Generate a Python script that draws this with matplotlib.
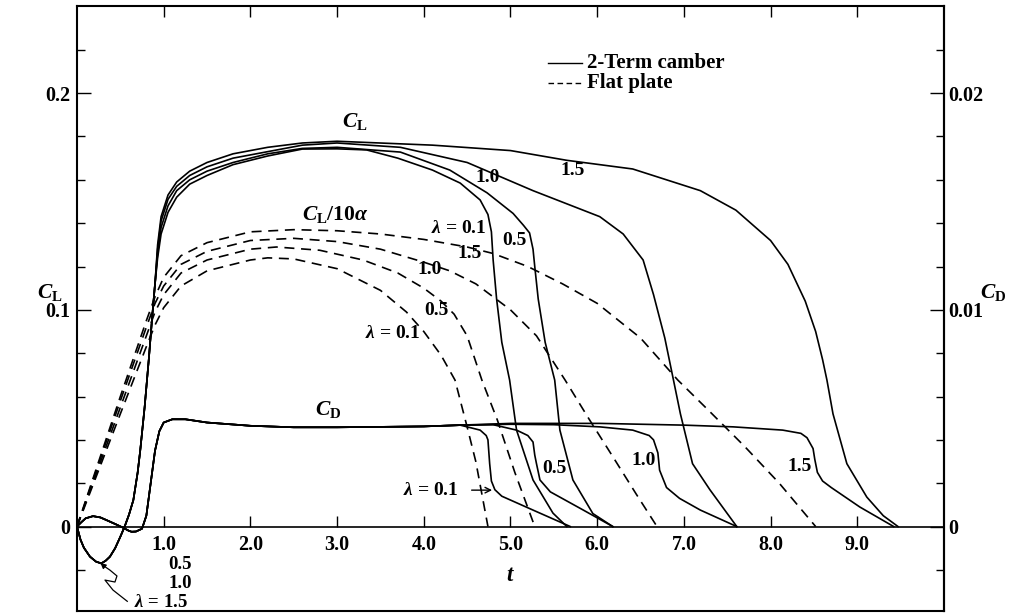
import matplotlib
matplotlib.use('Agg')
import matplotlib.pyplot as plt
from matplotlib.lines import Line2D

plt.rcParams['font.family'] = ['Liberation Serif', 'DejaVu Serif']
plt.rcParams['font.weight'] = 'bold'
plt.rcParams['mathtext.fontset'] = 'custom'
plt.rcParams['mathtext.rm'] = 'Liberation Serif:bold'
plt.rcParams['mathtext.it'] = 'Liberation Serif:italic:bold'
plt.rcParams['mathtext.bf'] = 'Liberation Serif:bold'

# ---- data ----
lambdas = ['0.1', '0.5', '1.0', '1.5']

# shared start of the cambered-plate lift curves (dip, then steep rise)
cl_start_t = [0, 0.04, 0.08, 0.15, 0.22, 0.28, 0.33, 0.38, 0.44, 0.5, 0.55, 0.6,
              0.65, 0.7, 0.73, 0.78, 0.83, 0.87, 0.9]
cl_start_v = [0, -0.006, -0.0098, -0.0139, -0.0162, -0.017, -0.0158, -0.0139, -0.010,
              -0.0047, 0.0, 0.0055, 0.0122, 0.025, 0.0353, 0.055, 0.078, 0.098, 0.112]

# 2-term camber C_L, rest of each curve
cl_t = {
    '0.1': [0.93, 0.97, 1.05, 1.15, 1.3, 1.5, 1.8, 2.2, 2.6, 3.0, 3.34, 3.7, 4.1, 4.42,
            4.65, 4.74, 4.78, 4.8, 4.84, 4.9, 4.99, 5.07, 5.26, 5.49, 5.65],
    '0.5': [0.93, 0.97, 1.05, 1.15, 1.3, 1.5, 1.8, 2.2, 2.6, 3.0, 3.73, 4.3, 4.73, 5.03,
            5.15, 5.22, 5.26, 5.28, 5.32, 5.4, 5.51, 5.57, 5.72, 5.95, 6.18],
    '1.0': [0.93, 0.97, 1.05, 1.15, 1.3, 1.5, 1.8, 2.2, 2.6, 3.0, 3.73, 4.5, 5.26, 6.03,
            6.3, 6.53, 6.65, 6.78, 6.88, 6.96, 7.1, 7.3, 7.61],
    '1.5': [0.93, 0.97, 1.05, 1.15, 1.3, 1.5, 1.8, 2.2, 2.6, 3.0, 4.1, 5.0, 5.65, 6.41,
            7.19, 7.6, 8.0, 8.2, 8.4, 8.52, 8.6, 8.65, 8.72, 8.88, 9.11, 9.3, 9.47],
}
cl_v = {
    '0.1': [0.124, 0.135, 0.145, 0.152, 0.158, 0.162, 0.167, 0.171, 0.1742, 0.1743, 0.1738,
            0.170, 0.1645, 0.1585, 0.1507, 0.144, 0.136, 0.123, 0.105, 0.085, 0.0676,
            0.0445, 0.0215, 0.0062, 0.0],
    '0.5': [0.126, 0.138, 0.148, 0.155, 0.160, 0.164, 0.168, 0.172, 0.1745, 0.175, 0.1728,
            0.1645, 0.154, 0.1445, 0.139, 0.1355, 0.128, 0.12, 0.105, 0.085, 0.0676,
            0.0445, 0.0215, 0.006, 0.0],
    '1.0': [0.128, 0.141, 0.151, 0.157, 0.162, 0.166, 0.170, 0.173, 0.176, 0.177, 0.175,
            0.168, 0.155, 0.143, 0.135, 0.123, 0.107, 0.087, 0.0676, 0.052, 0.029, 0.017,
            0.0],
    '1.5': [0.130, 0.143, 0.153, 0.159, 0.164, 0.168, 0.172, 0.175, 0.177, 0.1778, 0.176,
            0.1735, 0.169, 0.165, 0.155, 0.146, 0.132, 0.121, 0.104, 0.090, 0.077, 0.0676,
            0.052, 0.029, 0.0136, 0.005, 0.0],
}

# flat plate C_L/10alpha
fp_t = {
    '0.1': [0, 0.5, 0.8, 0.9, 1.0, 1.2, 1.5, 2.0, 2.2, 2.5, 3.0, 3.5, 3.8, 4.0, 4.2, 4.36,
            4.5, 4.6, 4.74],
    '0.5': [0, 0.5, 0.8, 0.9, 1.0, 1.2, 1.5, 2.0, 2.3, 2.8, 3.3, 3.7, 4.0, 4.2, 4.35, 4.5,
            4.67, 4.85, 5.05, 5.28],
    '1.0': [0, 0.5, 0.8, 0.9, 1.0, 1.2, 1.5, 2.0, 2.5, 3.0, 3.5, 4.0, 4.3, 4.6, 5.0, 5.3,
            5.63, 5.9, 6.2, 6.45, 6.69],
    '1.5': [0, 0.5, 0.8, 0.9, 1.0, 1.2, 1.5, 2.0, 2.5, 3.0, 3.5, 4.0, 4.5, 4.8, 5.2, 5.6,
            6.0, 6.5, 6.93, 7.3, 7.7, 8.1, 8.52],
}
fp_v = {
    '0.1': [0, 0.052, 0.083, 0.093, 0.101, 0.111, 0.118, 0.123, 0.124, 0.1235, 0.119, 0.109,
            0.099, 0.090, 0.079, 0.0676, 0.046, 0.030, 0.0],
    '0.5': [0, 0.055, 0.088, 0.099, 0.107, 0.117, 0.123, 0.128, 0.129, 0.1275, 0.123, 0.117,
            0.110, 0.104, 0.098, 0.088, 0.0676, 0.049, 0.025, 0.0],
    '1.0': [0, 0.058, 0.092, 0.103, 0.111, 0.121, 0.127, 0.132, 0.133, 0.1315, 0.128, 0.122,
            0.118, 0.112, 0.100, 0.088, 0.0676, 0.050, 0.031, 0.015, 0.0],
    '1.5': [0, 0.060, 0.095, 0.106, 0.115, 0.125, 0.131, 0.136, 0.137, 0.1365, 0.135, 0.1325,
            0.129, 0.126, 0.120, 0.112, 0.103, 0.087, 0.0676, 0.053, 0.037, 0.020, 0.0],
}

# drag coefficient, shared start then per-lambda tails
cd_start_t = [0, 0.05, 0.1, 0.185, 0.27, 0.35, 0.45, 0.53, 0.6, 0.63, 0.68, 0.75, 0.8,
              0.85, 0.9, 0.95, 1.0, 1.1, 1.25, 1.5, 2.0, 2.5, 3.0, 3.5, 4.0, 4.42]
cd_start_v = [0, 0.0002, 0.00038, 0.00048, 0.00042, 0.00028, 0.0001, -0.00005, -0.0002,
              -0.00024, -0.00023, -0.0001, 0.0005, 0.002, 0.0035, 0.0044, 0.0048, 0.00495,
              0.00495, 0.0048, 0.00465, 0.00458, 0.00458, 0.0046, 0.00462, 0.00468]
cd_t = {
    '0.1': [4.65, 4.72, 4.74, 4.76, 4.78, 4.82, 4.9, 5.26, 5.69],
    '0.5': [4.8, 5.07, 5.2, 5.26, 5.28, 5.3, 5.34, 5.46, 5.84, 6.18],
    '1.0': [5.0, 5.5, 6.03, 6.41, 6.6, 6.65, 6.7, 6.72, 6.8, 6.95, 7.19, 7.61],
    '1.5': [5.0, 6.03, 7.0, 7.57, 8.14, 8.35, 8.42, 8.49, 8.51, 8.54, 8.6, 8.7, 9.03, 9.42],
}
cd_v = {
    '0.1': [0.00445, 0.0042, 0.004, 0.0029, 0.0021, 0.0017, 0.0014, 0.00076, 0.0],
    '0.5': [0.0047, 0.00445, 0.0042, 0.0039, 0.0033, 0.0029, 0.00215, 0.0016, 0.00076, 0.0],
    '1.0': [0.00472, 0.0047, 0.0046, 0.00445, 0.0042, 0.004, 0.0034, 0.0026, 0.0018, 0.0013,
            0.00076, 0.0],
    '1.5': [0.00476, 0.00476, 0.00468, 0.0046, 0.00445, 0.0043, 0.0041, 0.0036, 0.0031,
            0.0025, 0.0021, 0.0018, 0.0009, 0.0],
}

cl_ticks = [0, 0.1, 0.2]
cl_ticklabels = ['0', '0.1', '0.2']
cd_ticks = [0, 0.01, 0.02]
cd_ticklabels = ['0', '0.01', '0.02']
t_ticks = [1, 2, 3, 4, 5, 6, 7, 8, 9]
t_ticklabels = ['1.0', '2.0', '3.0', '4.0', '5.0', '6.0', '7.0', '8.0', '9.0']

# ---- figure ----
fig = plt.figure(figsize=(10.32, 6.15), dpi=100)
ax = fig.add_axes([0.0746, 0.0057, 0.8401, 0.9845])
ax2 = ax.twinx()

ylo, yhi = -0.0392, 0.2402
ax.set_xlim(0, 10)
ax.set_ylim(ylo, yhi)
ax2.set_ylim(ylo / 10, yhi / 10)

lw = 1.2
for lam in lambdas:
    ax.plot(cl_start_t + cl_t[lam], cl_start_v + cl_v[lam], color='black', lw=lw)
    ax.plot(fp_t[lam], fp_v[lam], color='black', lw=lw, ls=(0, (6, 4)))
    ax2.plot(cd_start_t + cd_t[lam], cd_start_v + cd_v[lam], color='black', lw=lw)

# axes frame: bottom spine moved to zero, lower frame edge drawn separately
for s in ['left', 'right', 'top', 'bottom']:
    ax.spines[s].set_linewidth(1.5)
ax.spines['bottom'].set_position(('data', 0))
ax.spines['bottom'].set_linewidth(1.2)
ax.add_line(Line2D([0, 1], [0, 0], transform=ax.transAxes, color='black', lw=1.5,
                   clip_on=False))
for s in ax2.spines.values():
    s.set_visible(False)
ax2.spines['right'].set_visible(True)
ax2.spines['right'].set_linewidth(1.5)

fs = 14.5
fl = 14  # curve labels

ax.set_xticks(t_ticks)
ax.set_xticklabels(t_ticklabels)
ax.tick_params(axis='x', which='both', direction='in', top=True, bottom=True,
               length=8, width=1.0, labelsize=fs, pad=6)

ax.set_yticks(cl_ticks)
ax.set_yticklabels(cl_ticklabels)
ax.set_yticks([-0.02, 0.02, 0.04, 0.06, 0.08, 0.12, 0.14, 0.16, 0.18, 0.22], minor=True)
ax.tick_params(axis='y', which='major', direction='in', length=10, width=1.0,
               labelsize=fs, pad=5)
ax.tick_params(axis='y', which='minor', direction='in', length=6, width=1.0)

ax2.set_yticks(cd_ticks)
ax2.set_yticklabels(cd_ticklabels)
ax2.set_yticks([-0.002, 0.002, 0.004, 0.006, 0.008, 0.012, 0.014, 0.016, 0.018, 0.022],
               minor=True)
ax2.tick_params(axis='y', which='major', direction='in', length=10, width=1.0,
                labelsize=fs, pad=3)
ax2.tick_params(axis='y', which='minor', direction='in', length=6, width=1.0)

for lab in ax.get_xticklabels() + ax.get_yticklabels() + ax2.get_yticklabels():
    lab.set_fontweight('bold')

# axis labels
ax.text(-0.31, 0.108, r'$C_{\rm L}$', fontsize=fs + 1, ha='center', va='center',
        clip_on=False)
ax.text(10.57, 0.108, r'$C_{\rm D}$', fontsize=fs + 1, ha='center', va='center',
        clip_on=False)
ax.text(5.0, -0.0224, r'$t$', fontsize=fs + 2, ha='center', va='center')

# legend
ax.plot([5.43, 5.82], [0.2139, 0.2139], color='black', lw=1.0)
ax.plot([5.43, 5.82], [0.2047, 0.2047], color='black', lw=1.0, ls=(0, (4, 2.5)))
ax.text(5.88, 0.2139, '2-Term camber', fontsize=15, va='center', ha='left')
ax.text(5.88, 0.2047, 'Flat plate', fontsize=15, va='center', ha='left')

# curve labels
ax.text(3.21, 0.1867, r'$C_{\rm L}$', fontsize=fs + 1, ha='center', va='center')
ax.text(2.98, 0.1438, r'$C_{\rm L}/10\alpha$', fontsize=fs + 1, ha='center', va='center')
ax.text(4.40, 0.1375, r'$\lambda$ = 0.1', fontsize=fl, ha='center', va='center')
ax.text(5.05, 0.1320, '0.5', fontsize=fl, ha='center', va='center')
ax.text(4.74, 0.1613, '1.0', fontsize=fl, ha='center', va='center')
ax.text(5.72, 0.1645, '1.5', fontsize=fl, ha='center', va='center')
ax.text(3.64, 0.0893, r'$\lambda$ = 0.1', fontsize=fl, ha='center', va='center')
ax.text(4.15, 0.0995, '0.5', fontsize=fl, ha='center', va='center')
ax.text(4.07, 0.1184, '1.0', fontsize=fl, ha='center', va='center')
ax.text(4.53, 0.1262, '1.5', fontsize=fl, ha='center', va='center')
ax.text(2.9, 0.0538, r'$C_{\rm D}$', fontsize=fs + 1, ha='center', va='center')
ax.text(4.08, 0.0168, r'$\lambda$ = 0.1', fontsize=fl, ha='center', va='center')
ax.annotate('', xy=(4.82, 0.0168), xytext=(4.52, 0.0168),
            arrowprops=dict(arrowstyle='->', lw=1.0, color='black'))
ax.text(5.51, 0.027, '0.5', fontsize=fl, ha='center', va='center')
ax.text(6.53, 0.0307, '1.0', fontsize=fl, ha='center', va='center')
ax.text(8.34, 0.0275, '1.5', fontsize=fl, ha='center', va='center')

# labels of the initial dip
ax.text(1.19, -0.0175, '0.5', fontsize=13.5, ha='center', va='center')
ax.text(1.19, -0.0262, '1.0', fontsize=13.5, ha='center', va='center')
ax.text(0.97, -0.0350, r'$\lambda$ = 1.5', fontsize=13.5, ha='center', va='center')
ax.plot([0.58, 0.415, 0.323, 0.438, 0.461, 0.38, 0.31],
        [-0.0345, -0.0293, -0.0247, -0.0256, -0.0228, -0.0201, -0.0182],
        color='black', lw=0.9, clip_on=False)
ax.annotate('', xy=(0.27, -0.0168), xytext=(0.31, -0.0182),
            arrowprops=dict(arrowstyle='-|>', lw=0.9, color='black', mutation_scale=8))

fig.savefig('out.png', dpi=100)
